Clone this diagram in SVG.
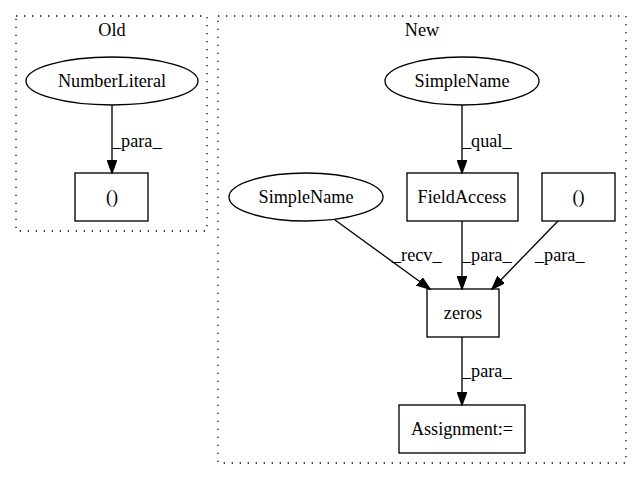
<svg xmlns="http://www.w3.org/2000/svg" width="641" height="480" viewBox="0 0 641 480">
<style>
text{font-family:"Liberation Serif","Times New Roman",serif;font-size:18.2px;fill:#000}
.c{fill:none;stroke:#000;stroke-width:1.33;stroke-dasharray:1.33,6.67}
.n{fill:none;stroke:#000;stroke-width:1.33}
.e{fill:none;stroke:#000;stroke-width:1.33}
.m{text-anchor:middle}
</style>
<defs>
<marker id="ah" markerWidth="14" markerHeight="10" refX="13" refY="4.7" orient="auto" markerUnits="userSpaceOnUse">
<polygon points="0,0 13,4.7 0,9.4" fill="#000" stroke="#000" stroke-width="1.33"/>
</marker>
</defs>
<rect width="641" height="480" fill="#fff"/>
<g id="cluster_old">
<rect class="c" x="16" y="16" width="191" height="215"/>
<text class="m" x="112" y="36">Old</text>
</g>
<g id="cluster_new">
<rect class="c" x="218" y="16" width="408" height="447"/>
<text class="m" x="422" y="36">New</text>
</g>
<g id="edges">
<line class="e" x1="112" y1="105" x2="112" y2="173" marker-end="url(#ah)"/>
<text x="112" y="147">_para_</text>
<line class="e" x1="462" y1="105" x2="462" y2="173" marker-end="url(#ah)"/>
<text x="462" y="147">_qual_</text>
<line class="e" x1="335" y1="220" x2="430" y2="289" marker-end="url(#ah)"/>
<text x="392" y="261">_recv_</text>
<line class="e" x1="462" y1="221" x2="462" y2="289" marker-end="url(#ah)"/>
<text x="462" y="261">_para_</text>
<line class="e" x1="558" y1="221" x2="492" y2="289" marker-end="url(#ah)"/>
<text x="535" y="261">_para_</text>
<line class="e" x1="462" y1="337" x2="462" y2="405" marker-end="url(#ah)"/>
<text x="462" y="377">_para_</text>
</g>
<g id="node_numberliteral">
<ellipse class="n" cx="112" cy="81" rx="86" ry="24"/>
<text class="m" x="112" y="87">NumberLiteral</text>
</g>
<g id="node_old_paren">
<rect class="n" x="75" y="173" width="73" height="48"/>
<text class="m" x="112" y="203">()</text>
</g>
<g id="node_simplename_top">
<ellipse class="n" cx="462" cy="81" rx="77" ry="24"/>
<text class="m" x="462" y="87">SimpleName</text>
</g>
<g id="node_fieldaccess">
<rect class="n" x="407" y="173" width="111" height="48"/>
<text class="m" x="462" y="203">FieldAccess</text>
</g>
<g id="node_new_paren">
<rect class="n" x="542" y="173" width="73" height="48"/>
<text class="m" x="578.5" y="203">()</text>
</g>
<g id="node_simplename_left">
<ellipse class="n" cx="306" cy="197" rx="77" ry="24"/>
<text class="m" x="306" y="203">SimpleName</text>
</g>
<g id="node_zeros">
<rect class="n" x="427" y="289" width="72" height="48"/>
<text class="m" x="463" y="319">zeros</text>
</g>
<g id="node_assignment">
<rect class="n" x="399" y="405" width="126" height="48"/>
<text class="m" x="462" y="435">Assignment:=</text>
</g>
</svg>
